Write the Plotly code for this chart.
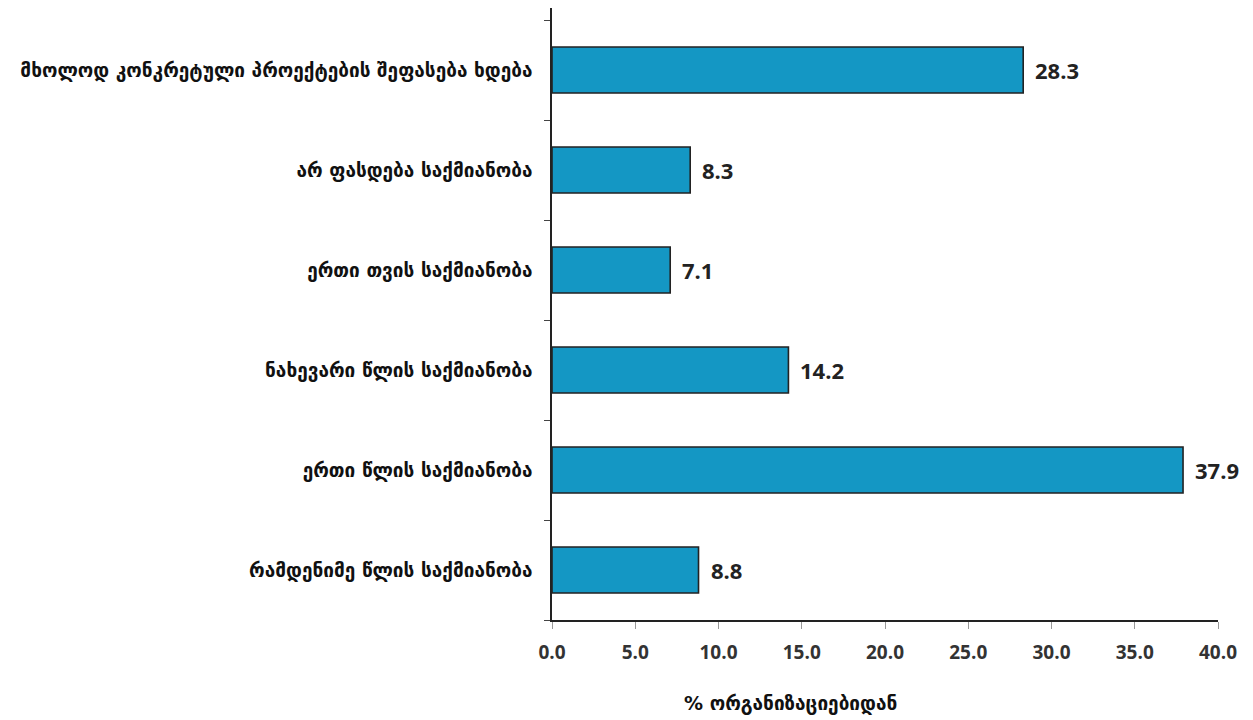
import plotly.graph_objects as go

categories = [
    "რამდენიმე წლის საქმიანობა",
    "ერთი წლის საქმიანობა",
    "ნახევარი წლის საქმიანობა",
    "ერთი თვის საქმიანობა",
    "არ ფასდება საქმიანობა",
    "მხოლოდ კონკრეტული პროექტების შეფასება ხდება",
]
values = [8.8, 37.9, 14.2, 7.1, 8.3, 28.3]
x_ticks = [0, 5, 10, 15, 20, 25, 30, 35, 40]
x_title = "% ორგანიზაციებიდან"

# page body has an 8px offset in the browser
OFF = 8
W, H = 1245, 712
L = 552 - OFF
R = W - (1218 - OFF)
T = 0
B = H - (620 - OFF)

fig = go.Figure()
fig.add_trace(go.Bar(
    y=categories, x=values, orientation="h",
    width=0.46,
    marker=dict(color="#1497C4", line=dict(color="#222222", width=1.6)),
))

annotations = [dict(
    x=v, y=c, xref="x", yref="y", text=f"{v:.1f}", showarrow=False,
    xanchor="left", yanchor="middle", xshift=10,
    font=dict(family="Open Sans", size=22, color="#222222", weight="bold"),
) for c, v in zip(categories, values)]

annotations.append(dict(
    text=x_title, xref="paper", yref="paper",
    x=(790 - OFF - L) / (W - L - R), y=-(703 - OFF - (H - B)) / (H - T - B),
    xanchor="center", yanchor="middle", showarrow=False,
    font=dict(family="DejaVu Sans", size=19, color="#111111", weight="bold"),
))

fig.update_layout(
    width=W, height=H,
    margin=dict(l=L, r=R, t=T, b=B, autoexpand=False),
    plot_bgcolor="white", paper_bgcolor="white",
    showlegend=False,
    xaxis=dict(
        range=[0, 40], tickvals=x_ticks, ticktext=[f"{t:.1f}" for t in x_ticks],
        showgrid=False, zeroline=False,
        showline=True, linecolor="#222222", linewidth=1.5,
        ticks="outside", ticklen=7, tickcolor="#999999", tickwidth=1,
        tickfont=dict(family="Open Sans", size=19, color="#333333", weight="bold"),
        ticklabelstandoff=7,
    ),
    yaxis=dict(
        type="category", categoryorder="array", categoryarray=categories,
        range=[-0.5, 5.62],
        showgrid=False, zeroline=False,
        showline=True, linecolor="#222222", linewidth=1.5,
        ticks="outside", ticklen=6, tickcolor="#444444", tickson="boundaries",
        tickfont=dict(family="DejaVu Sans", size=19, color="#111111", weight="bold"),
        ticklabelstandoff=14,
    ),
    annotations=annotations,
)

fig.write_html("out.html")
